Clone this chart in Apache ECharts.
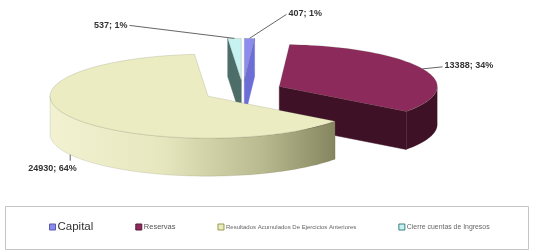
<!DOCTYPE html>
<html>
<head>
<meta charset="utf-8">
<script src="https://cdn.jsdelivr.net/npm/echarts@6/dist/echarts.min.js"></script>
<style>
  html, body { margin: 0; padding: 0; background: #fff; }
  #chart { width: 534px; height: 252px; }
</style>
</head>
<body>
<div id="chart"></div>
<script>
// data
var categories = ["Capital", "Reservas", "Resultados Acumulados De Ejercicios Anteriores", "Cierre cuentas de Ingresos"];
var values = [407, 13388, 24930, 537];
var percents = [1, 34, 64, 1]; // as printed on the labels

// look
var topColors = ["#8c8cee", "#8c2b5b", "#ececc2", "#c6f2f2"];
var cutColors = ["#6d6dd6", "#3e1126", "#b8b890", "#4d6d69"];
var legendBorder = ["#5a5ab0", "#5a1a3a", "#9a9a50", "#3f7f80"];
var legendFont = [11.5, 7.5, 6, 6.9];
var legendColor = ["#333", "#555", "#666", "#666"];

// geometry of the tilted pie
var CX = 243, CY = 91, RX = 158, RY = 42, DEPTH = 38, EXPLODE = 40;
// where each label sits, relative to its anchor on the slice
var labelLine = [[37, -24], [20, -2], [0, 6], [-105, -13]];
var labelText = [[2, -1, "left"], [2, -1, "left"], [-42, 8, "left"], [-2, 0, "right"]];

var total = values.reduce(function (s, v) { return s + v; }, 0);
var starts = [], ends = [], acc = 0;
values.forEach(function (v) {
  starts.push(acc / total * 360);
  acc += v;
  ends.push(acc / total * 360);
});

function rad(d) { return d * Math.PI / 180; }
function pt(ox, oy, deg, dy) {
  return [ox + RX * Math.sin(rad(deg)), oy - RY * Math.cos(rad(deg)) + (dy || 0)];
}
function arc(ox, oy, a, b, dy) {
  var pts = [], n = Math.max(2, Math.ceil(Math.abs(b - a) / 2));
  for (var k = 0; k <= n; k++) pts.push(pt(ox, oy, a + (b - a) * k / n, dy));
  return pts;
}

function renderSlice(i) {
  return function (params, api) {
    var a = starts[i], b = ends[i], m = (a + b) / 2;
    var ox = CX + EXPLODE * Math.sin(rad(m));
    var oy = CY - EXPLODE * (RY / RX) * Math.cos(rad(m));
    var kids = [];

    // radial cut faces, only those turned to the viewer
    [[a, a - 90], [b, b + 90]].forEach(function (f) {
      if (Math.cos(rad(f[1])) < 0) {
        var r = pt(ox, oy, f[0]);
        kids.push({
          type: "polygon",
          shape: { points: [[ox, oy], r, [r[0], r[1] + DEPTH], [ox, oy + DEPTH]] },
          style: { fill: cutColors[i], stroke: cutColors[i], lineWidth: 0.5 }
        });
      }
    });

    // outer rim, front half only
    var lo = Math.max(a, 90), hi = Math.min(b, 270);
    if (hi > lo) {
      var side = arc(ox, oy, lo, hi, 0).concat(arc(ox, oy, hi, lo, DEPTH));
      var fill = cutColors[i];
      if (i === 2) {
        var x0 = pt(ox, oy, 270)[0], x1 = pt(ox, oy, lo)[0];
        fill = new echarts.graphic.LinearGradient(x0, 0, x1, 0, [
          { offset: 0, color: "#f2f2d2" },
          { offset: 0.4, color: "#e6e6be" },
          { offset: 0.75, color: "#b9b98f" },
          { offset: 1, color: "#85855f" }
        ], true);
      }
      kids.push({
        type: "polygon",
        shape: { points: side },
        style: { fill: fill, stroke: "rgba(60,60,40,0.25)", lineWidth: 0.5 }
      });
    }

    // top face
    kids.push({
      type: "polygon",
      shape: { points: [[ox, oy]].concat(arc(ox, oy, a, b, 0)) },
      style: { fill: topColors[i], stroke: "rgba(90,90,70,0.35)", lineWidth: 0.5 }
    });

    // label with leader line
    var anc = pt(ox, oy, m, i === 2 ? DEPTH : 0);
    var end = [anc[0] + labelLine[i][0], anc[1] + labelLine[i][1]];
    kids.push({
      type: "polyline",
      shape: { points: [anc, end] },
      style: { stroke: "#666", lineWidth: 1, fill: null }
    });
    kids.push({
      type: "text",
      style: {
        text: values[i] + "; " + percents[i] + "%",
        x: end[0] + labelText[i][0],
        y: end[1] + labelText[i][1],
        align: labelText[i][2],
        verticalAlign: "middle",
        font: "bold 9px Arial, 'Liberation Sans', sans-serif",
        fill: "#333"
      }
    });

    return { type: "group", children: kids };
  };
}

// back slices first, front ones last
var order = categories.map(function (c, i) { return i; }).sort(function (p, q) {
  return -Math.cos(rad((starts[p] + ends[p]) / 2)) + Math.cos(rad((starts[q] + ends[q]) / 2));
});

var chart = echarts.init(document.getElementById("chart"), null, { renderer: "canvas" });
var option = {
  backgroundColor: "#fff",
  animation: false,
  legend: {
    left: 44,
    top: 216,
    icon: "rect",
    itemWidth: 6,
    itemHeight: 6,
    itemGap: 42,
    selectedMode: false,
    data: categories.map(function (c, i) {
      return {
        name: c,
        itemStyle: { color: topColors[i], borderColor: legendBorder[i], borderWidth: 1 },
        textStyle: {
          fontSize: legendFont[i],
          color: legendColor[i],
          padding: [0, 0, 0, -3],
          fontFamily: "Arial, 'Liberation Sans', sans-serif"
        }
      };
    })
  },
  graphic: [{
    type: "rect",
    shape: { x: 5.5, y: 206.5, width: 523, height: 43 },
    style: { fill: null, stroke: "#c4c4c4", lineWidth: 1 }
  }],
  series: categories.map(function (c, i) {
    return {
      type: "custom",
      name: c,
      coordinateSystem: "none",
      z: 2 + order.indexOf(i),
      itemStyle: { color: topColors[i] },
      renderItem: renderSlice(i),
      data: [values[i]]
    };
  })
};
chart.setOption(option);
</script>
</body>
</html>
